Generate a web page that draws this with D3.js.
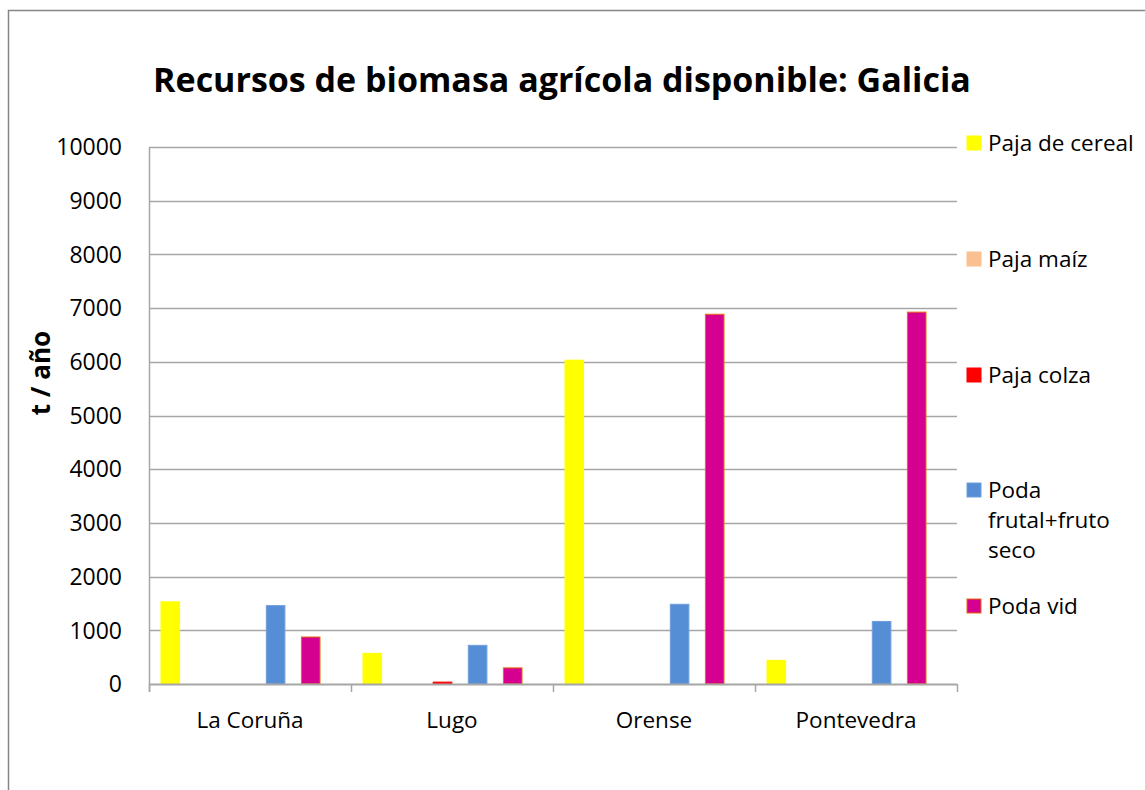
<!DOCTYPE html>
<html>
<head>
<meta charset="utf-8">
<script src="https://cdn.jsdelivr.net/npm/d3@7"></script>
<style>
  body { margin: 0; background: #fff; }
  text { font-family: "Open Sans", Lato, sans-serif; fill: #000; }
</style>
</head>
<body>
<svg></svg>
<script>
// -------------------------------------------------------------
const width = 1145;
const height = 790;

const provinces = ['La Coruña', 'Lugo', 'Orense', 'Pontevedra'];
const series    = ['Paja de cereal', 'Paja maíz', 'Paja colza', 'Poda frutal+fruto seco', 'Poda vid'];
const colors    = ['#FFFF00', '#FAC090', '#FF0000', '#558ED5', '#D5008F'];
const strokes   = ['#FFFF00', '#FAC090', '#FF0000', '#6FA0DC', '#E46C0A'];

// values per series, in province order
const pajaCereal = [1530, 570, 6030, 440];
const pajaMaiz   = [0, 0, 0, 0];
const pajaColza  = [0, 35, 0, 0];
const podaFrutal = [1460, 720, 1485, 1165];
const podaVid    = [875, 300, 6885, 6925];
const values     = [pajaCereal, pajaMaiz, pajaColza, podaFrutal, podaVid];

const yTicks = [0, 1000, 2000, 3000, 4000, 5000, 6000, 7000, 8000, 9000, 10000];

const legendLines = [['Paja de cereal'], ['Paja maíz'], ['Paja colza'], ['Poda', 'frutal+fruto', 'seco'], ['Poda vid']];
const legendY     = [143, 259, 375, 490, 606];

const plot = { left: 149, right: 957, top: 147, bottom: 684 };

const svg = d3.select('svg').attr('width', width).attr('height', height);

// chart frame
svg.append('rect')
  .attr('x', 8.5).attr('y', 10.5)
  .attr('width', width + 10).attr('height', height + 10)
  .attr('fill', '#fff').attr('stroke', '#868686').attr('stroke-width', 1.5);

const x0 = d3.scaleBand().domain(provinces).range([plot.left, plot.right]);
const x1 = d3.scaleBand().domain(series).range([12, 171]).paddingInner(0.47).paddingOuter(0);
const y  = d3.scaleLinear().domain([0, 10000]).range([plot.bottom, plot.top]);

// gridlines
svg.append('g')
  .selectAll('line')
  .data(yTicks.slice(1))
  .enter().append('line')
  .attr('x1', plot.left).attr('x2', plot.right)
  .attr('y1', d => Math.round(y(d)) + 0.5).attr('y2', d => Math.round(y(d)) + 0.5)
  .attr('stroke', '#a6a6a6').attr('stroke-width', 1.3);

// y tick labels
svg.append('g')
  .selectAll('text')
  .data(yTicks)
  .enter().append('text')
  .attr('x', 122)
  .attr('y', d => y(d))
  .attr('dy', '0.36em')
  .attr('text-anchor', 'end')
  .style('font-size', '23px')
  .text(d => d);

// bars
const rows = [];
series.forEach((s, i) => provinces.forEach((p, j) => rows.push({ s, i, p, v: values[i][j] })));

svg.append('g')
  .selectAll('rect')
  .data(rows.filter(d => d.v > 0))
  .enter().append('rect')
  .attr('x', d => x0(d.p) + x1(d.s))
  .attr('y', d => y(d.v))
  .attr('width', x1.bandwidth())
  .attr('height', d => y(0) - y(d.v))
  .attr('fill', d => colors[d.i])
  .attr('stroke', d => strokes[d.i])
  .attr('stroke-width', 1);

// axes lines
const axisColor = '#a6a6a6';
svg.append('line')
  .attr('x1', plot.left + 0.5).attr('x2', plot.left + 0.5)
  .attr('y1', plot.top).attr('y2', plot.bottom + 8)
  .attr('stroke', axisColor).attr('stroke-width', 1.5);

svg.append('line')
  .attr('x1', plot.left).attr('x2', plot.right)
  .attr('y1', plot.bottom + 0.5).attr('y2', plot.bottom + 0.5)
  .attr('stroke', axisColor).attr('stroke-width', 2);

svg.append('g')
  .selectAll('line')
  .data(provinces.map(p => x0(p)).concat([plot.right]))
  .enter().append('line')
  .attr('x1', d => d + 0.5).attr('x2', d => d + 0.5)
  .attr('y1', plot.bottom).attr('y2', plot.bottom + 8)
  .attr('stroke', axisColor).attr('stroke-width', 1.5);

// x labels
svg.append('g')
  .selectAll('text')
  .data(provinces)
  .enter().append('text')
  .attr('x', d => x0(d) + x0.bandwidth() / 2)
  .attr('y', 728)
  .attr('text-anchor', 'middle')
  .style('font-size', '22.5px')
  .text(d => d);

// title
svg.append('text')
  .attr('x', 562).attr('y', 92)
  .attr('text-anchor', 'middle')
  .style('font-size', '34px').style('font-weight', 'bold')
  .text('Recursos de biomasa agrícola disponible: Galicia');

// y axis title
svg.append('text')
  .attr('transform', 'translate(50,373) rotate(-90)')
  .attr('text-anchor', 'middle')
  .style('font-size', '26px').style('font-weight', 'bold')
  .text('t / año');

// legend
const legend = svg.append('g')
  .selectAll('g')
  .data(series)
  .enter().append('g')
  .attr('transform', (d, i) => `translate(967,${legendY[i]})`);

legend.append('rect')
  .attr('x', 0).attr('y', -7)
  .attr('width', 14).attr('height', 14)
  .attr('fill', (d, i) => colors[i])
  .attr('stroke', (d, i) => strokes[i]);

legend.append('text')
  .attr('x', 21)
  .style('font-size', '22.5px')
  .selectAll('tspan')
  .data((d, i) => legendLines[i])
  .enter().append('tspan')
  .attr('x', 21)
  .attr('y', (d, k) => k * 30)
  .attr('dy', '0.36em')
  .text(d => d);
</script>
</body>
</html>
